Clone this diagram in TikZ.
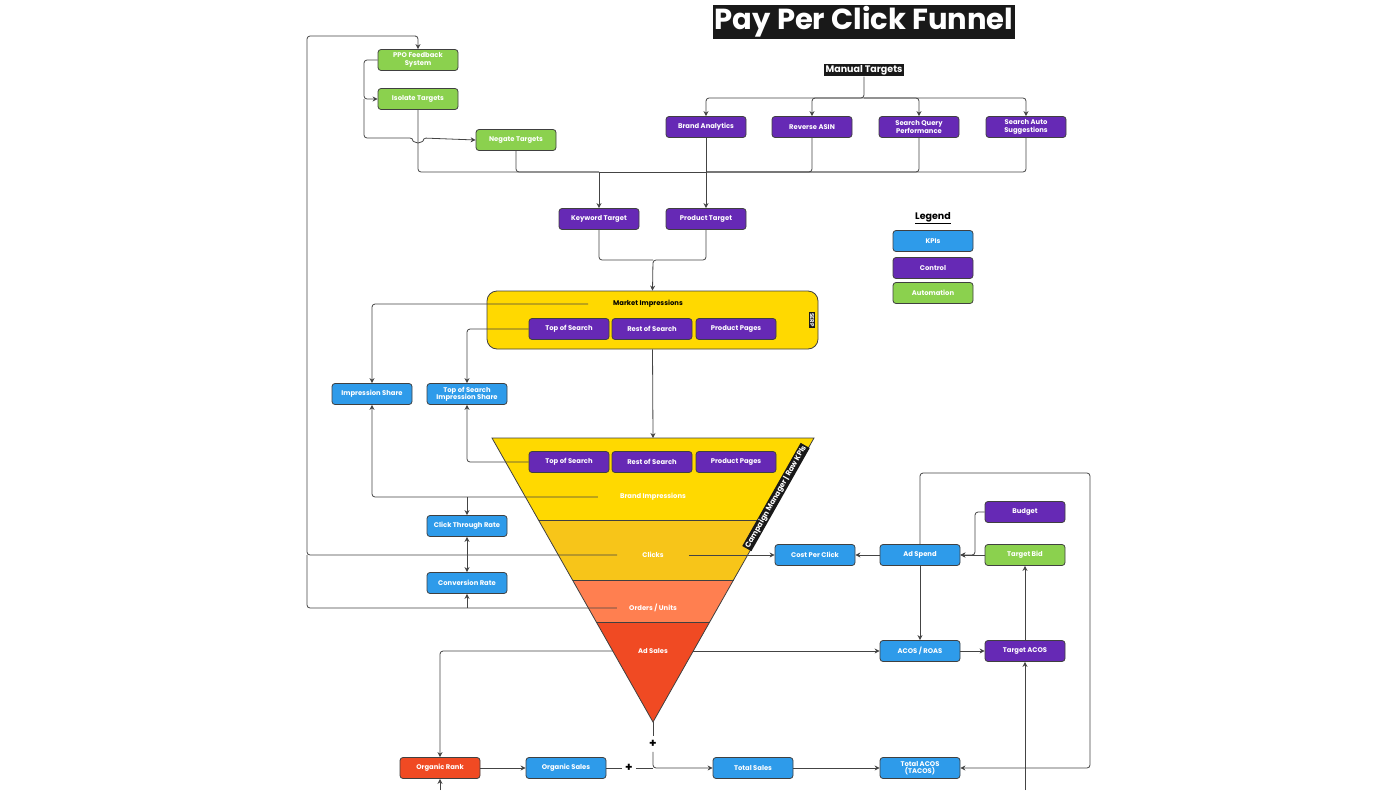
\documentclass[tikz,border=0pt]{standalone}
\usepackage{fontspec}
\setmainfont{Poppins}
\usetikzlibrary{arrows.meta}
\definecolor{kpi}{HTML}{2E9BEA}
\definecolor{ctrl}{HTML}{6629B5}
\definecolor{auto}{HTML}{8BD14E}
\definecolor{fyel}{HTML}{FFD900}
\definecolor{famb}{HTML}{F7C519}
\definecolor{fora}{HTML}{FF7F50}
\definecolor{fred}{HTML}{F04A23}
\definecolor{ln}{HTML}{444444}
\tikzset{
 bx/.style={rounded corners=3pt, draw=black!75, line width=0.8pt, minimum width=80pt, minimum height=21pt, align=center, text=white, font=\fontsize{6.8}{7.5}\selectfont\bfseries, inner sep=1pt},
 kpibox/.style={bx, fill=kpi},
 ctrlbox/.style={bx, fill=ctrl},
 autobox/.style={bx, fill=auto},
 lnk/.style={draw=ln, line width=0.8pt, rounded corners=3pt},
 arr/.style={lnk, -{Stealth[length=5pt,width=5pt]}},
 lbl/.style={font=\fontsize{6.8}{7}\selectfont\bfseries, text=white, inner ysep=1pt, inner xsep=22pt},
 blk/.style={fill=black!90, text=white, inner sep=1.5pt, font=\bfseries}
}
\begin{document}
\begin{tikzpicture}[x=1pt,y=-1pt]
\useasboundingbox (0,0) rectangle (1400,790);
\node[blk, font=\fontsize{29}{32}\selectfont\bfseries, inner sep=2pt] (title) at (864,22) {Pay Per Click Funnel};
\node[blk, font=\fontsize{9.5}{10}\selectfont\bfseries] (mt) at (864,70) {Manual Targets};
\node[ctrlbox] (ba) at (706,127) {Brand Analytics};
\node[ctrlbox] (ra) at (812,127) {Reverse ASIN};
\node[ctrlbox] (sqp) at (919,127) {Search Query\\Performance};
\node[ctrlbox] (sas) at (1026,127) {Search Auto\\Suggestions};
\node[autobox] (ppo) at (418,60) {PPO Feedback\\System};
\node[autobox] (iso) at (418,99) {Isolate Targets};
\node[autobox] (neg) at (516,140) {Negate Targets};
\node[ctrlbox] (kw) at (599,219) {Keyword Target};
\node[ctrlbox] (pt) at (706,219) {Product Target};
\node[font=\fontsize{9.5}{10}\selectfont\bfseries, inner sep=1pt] (leg) at (933,218) {\underline{Legend}};
\node[kpibox] (lk) at (933,241) {KPIs};
\node[ctrlbox] (lc) at (933,268) {Control};
\node[autobox] (la) at (933,293) {Automation};
\node[draw=black!75, line width=0.8pt, fill=fyel, rounded corners=10pt, minimum width=331pt, minimum height=58pt] (serp) at (652.5,320) {};
\node[lbl, text=black, inner xsep=25pt] (mi) at (648,304) {Market Impressions};
\node[ctrlbox] (s1) at (569,329) {Top of Search};
\node[ctrlbox] (s2) at (652,329) {Rest of Search};
\node[ctrlbox] (s3) at (736,329) {Product Pages};
\node[blk, rotate=-90, font=\fontsize{5.5}{6}\selectfont\bfseries, inner sep=1pt] (serpl) at (812,320) {SERP};
\fill[fyel] (492,438) -- (814,438) -- (767.5,520) -- (538.5,520) -- cycle;
\fill[famb] (538.5,520) -- (767.5,520) -- (733.5,580) -- (572.5,580) -- cycle;
\fill[fora] (572.5,580) -- (733.5,580) -- (709.7,622) -- (596.3,622) -- cycle;
\fill[fred] (596.3,622) -- (709.7,622) -- (653,722) -- cycle;
\draw[black!75, line width=0.8pt] (492,438) -- (814,438) -- (653,722) -- cycle;
\draw[black!75, line width=0.8pt] (538.5,520) -- (767.5,520) (572.5,580) -- (733.5,580) (596.3,622) -- (709.7,622);
\coordinate (ftop) at (653,438);
\coordinate (apex) at (653,722);
\node[ctrlbox] (f1) at (569,462) {Top of Search};
\node[ctrlbox] (f2) at (652,462) {Rest of Search};
\node[ctrlbox] (f3) at (736,462) {Product Pages};
\node[lbl] (bi) at (653,497) {Brand Impressions};
\node[lbl, inner xsep=25pt] (cl) at (653,555) {Clicks};
\node[lbl, inner xsep=12pt] (ou) at (653,608) {Orders / Units};
\node[lbl, inner xsep=25pt] (as) at (653,651) {Ad Sales};
\node[blk, rotate=60.5, font=\fontsize{7.4}{7.6}\selectfont\bfseries, inner sep=1.2pt] (cm) at (776,497) {Campaign Manager | Raw KPIs};
\node[kpibox] (is) at (372,394) {Impression Share};
\node[kpibox] (tsis) at (467,394) {Top of Search\\Impression Share};
\node[kpibox] (ctr) at (467,526) {Click Through Rate};
\node[kpibox] (cr) at (467,583) {Conversion Rate};
\node[kpibox] (cpc) at (815,555) {Cost Per Click};
\node[kpibox] (asp) at (920,555) {Ad Spend};
\node[ctrlbox] (bud) at (1025,512) {Budget};
\node[autobox] (tb) at (1025,555) {Target Bid};
\node[kpibox] (acos) at (920,651) {ACOS / ROAS};
\node[ctrlbox] (tacos) at (1025,651) {Target ACOS};
\node[bx, fill=fred] (orank) at (440,768) {Organic Rank};
\node[kpibox] (osales) at (566,768) {Organic Sales};
\node[kpibox] (tsales) at (753,768) {Total Sales};
\node[kpibox] (tac) at (920,768) {Total ACOS\\(TACOS)};
\node[font=\fontsize{12}{12}\selectfont\bfseries, inner sep=3pt] (p1) at (629,768) {+};
\node[font=\fontsize{12}{12}\selectfont\bfseries, inner sep=4pt] (p2) at (653,744) {+};
\coordinate (botL) at (440,790);
\coordinate (botR) at (1025,790);
\draw[arr] (mt.south) -- (864,98) -| (ba.north);
\draw[arr] (864,98) -| (ra.north);
\draw[arr] (864,98) -| (sqp.north);
\draw[arr] (864,98) -| (sas.north);
\draw[lnk] (iso.south) |- (599,172);
\draw[lnk] (neg.south) |- (599,172);
\draw[lnk] (sas.south) |- (706,172);
\draw[lnk] (sqp.south) |- (706,172);
\draw[lnk] (ra.south) |- (706,172);
\draw[lnk] (599,172) -- (706,172);
\draw[arr] (599,172) -- (kw.north);
\draw[arr] (ba.south) -- (pt.north);
\draw[lnk] (kw.south) |- (653,260);
\draw[arr] (pt.south) |- (653,260) -- (serp.north);
\draw[arr] (ppo.west) -| (364,99) -- (iso.west);
\draw[arr] (364,99) |- (413,138) arc[start angle=180,end angle=0,radius=5] -- (neg.west);
\draw[arr] (serp.south) -- (ftop);
\draw[arr] (mi.west) -| (is.north);
\draw[arr] (s1.west) -| (tsis.north);
\draw[arr] (f1.west) -| (tsis.south);
\draw[arr] (bi.west) -| (is.south);
\draw[arr] (467,497) -- (ctr.north);
\draw[lnk,{Stealth[length=5pt,width=5pt]}-{Stealth[length=5pt,width=5pt]}] (ctr.south) -- (cr.north);
\draw[arr] (cl.west) -- (307,555) |- (413,36) -- (418,36) -- (ppo.north);
\draw[lnk] (ou.west) -| (307,555);
\draw[arr] (467,608) -- (cr.south);
\draw[arr] (cl.east) -- (cpc.west);
\draw[arr] (asp.west) -- (cpc.east);
\draw[arr] (bud.west) -| (975,555) -- (asp.east);
\draw[arr] (tb.west) -- (asp.east);
\draw[arr] (asp.south) -- (acos.north);
\draw[arr] (asp.north) |- (1090,473) |- (tac.east);
\draw[arr] (as.east) -- (acos.west);
\draw[arr] (acos.east) -- (tacos.west);
\draw[arr] (tacos.north) -- (tb.south);
\draw[arr] (botR) -- (tacos.south);
\draw[arr] (as.west) -| (orank.north);
\draw[arr] (botL) -- (orank.south);
\draw[arr] (orank.east) -- (osales.west);
\draw[lnk] (osales.east) -- (p1.west);
\draw[lnk] (apex) -- (p2.north);
\draw[arr] (p2.south) |- (tsales.west);
\draw[lnk] (p1.east) -- (653,768);
\draw[arr] (tsales.east) -- (tac.west);
\end{tikzpicture}
\end{document}
